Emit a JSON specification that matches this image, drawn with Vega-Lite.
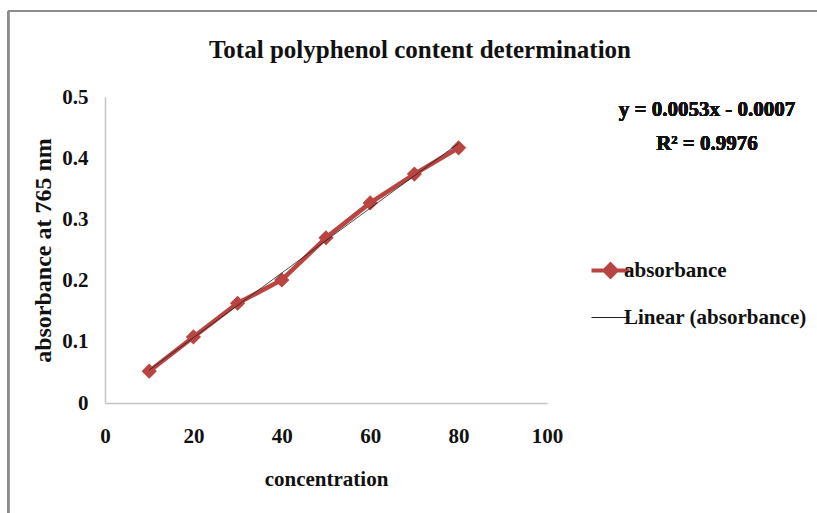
{
  "$schema": "https://vega.github.io/schema/vega-lite/v6.json",
  "width": 442,
  "height": 306,
  "autosize": {"type": "none"},
  "padding": {"left": 105, "top": 97, "right": 270, "bottom": 110},
  "background": "white",
  "config": {
    "view": {"stroke": null},
    "font": "Liberation Serif",
    "axis": {
      "labelFont": "Liberation Serif",
      "labelFontWeight": "bold",
      "labelFontSize": 21,
      "labelColor": "#111111",
      "labelFlush": false,
      "titleFont": "Liberation Serif",
      "titleFontWeight": "bold",
      "titleColor": "#111111",
      "grid": false,
      "ticks": false,
      "domainColor": "#c4c4c4",
      "domainWidth": 1.5
    },
    "legend": {
      "labelFont": "Liberation Serif",
      "labelFontWeight": "bold",
      "labelFontSize": 21,
      "labelColor": "#111111",
      "labelLimit": 0
    }
  },
  "title": {
    "text": "Total polyphenol content determination",
    "font": "Liberation Serif",
    "fontWeight": "bold",
    "fontSize": 25,
    "color": "#111111",
    "anchor": "middle",
    "frame": "group",
    "dx": 94,
    "offset": -53
  },
  "data": {
    "values": [
      {"concentration": 10, "absorbance": 0.052},
      {"concentration": 20, "absorbance": 0.108},
      {"concentration": 30, "absorbance": 0.163},
      {"concentration": 40, "absorbance": 0.201},
      {"concentration": 50, "absorbance": 0.270},
      {"concentration": 60, "absorbance": 0.327},
      {"concentration": 70, "absorbance": 0.374},
      {"concentration": 80, "absorbance": 0.417}
    ]
  },
  "layer": [
    {
      "mark": {"type": "rule", "color": "#8c8c8c", "strokeWidth": 2, "clip": false},
      "encoding": {
        "x": {"datum": -21.9, "type": "quantitative"},
        "x2": {"datum": 162},
        "y": {"datum": 0.6405, "type": "quantitative"}
      }
    },
    {
      "mark": {"type": "rule", "color": "#8c8c8c", "strokeWidth": 2, "clip": false},
      "encoding": {
        "x": {"datum": -21.9, "type": "quantitative"},
        "y": {"datum": 0.6405, "type": "quantitative"},
        "y2": {"datum": -0.2}
      }
    },
    {
      "mark": {"type": "line", "strokeWidth": 4.5, "point": {"shape": "diamond", "size": 230, "filled": true, "opacity": 1}},
      "encoding": {
        "x": {
          "field": "concentration",
          "type": "quantitative",
          "scale": {"domain": [0, 100]},
          "axis": {
            "values": [0, 20, 40, 60, 80, 100],
            "labelPadding": 22,
            "title": "concentration",
            "titleFontSize": 21,
            "titlePadding": 22
          }
        },
        "y": {
          "field": "absorbance",
          "type": "quantitative",
          "scale": {"domain": [0, 0.5]},
          "axis": {
            "values": [0, 0.1, 0.2, 0.3, 0.4, 0.5],
            "format": "~g",
            "labelPadding": 17,
            "title": "absorbance at 765 nm",
            "titleFontSize": 24,
            "titlePadding": 6
          }
        },
        "color": {
          "datum": "absorbance",
          "type": "nominal",
          "scale": {
            "domain": ["absorbance", "Linear (absorbance)"],
            "range": ["#b94441", "#222222"]
          },
          "legend": {
            "title": null,
            "orient": "none",
            "legendX": 495,
            "legendY": 163,
            "symbolType": "M-1,0H1",
            "symbolSize": 1444,
            "symbolStrokeWidth": 1,
            "labelOffset": 3,
            "rowPadding": 21,
            "encode": {
              "symbols": {
                "update": {
                  "shape": {"signal": "datum.value === 'absorbance' ? 'M-1,0H1M0,-0.32L0.32,0L0,0.32L-0.32,0Z' : 'M-1,0H1'"},
                  "strokeWidth": {"signal": "datum.value === 'absorbance' ? 4 : 1"},
                  "fill": {"signal": "datum.value === 'absorbance' ? '#b94441' : 'transparent'"},
                  "fillOpacity": {"value": 1}
                }
              }
            }
          }
        }
      }
    },
    {
      "transform": [{"regression": "absorbance", "on": "concentration"}],
      "mark": {"type": "line", "strokeWidth": 1, "opacity": 0.8},
      "encoding": {
        "x": {"field": "concentration", "type": "quantitative"},
        "y": {"field": "absorbance", "type": "quantitative"},
        "color": {"datum": "Linear (absorbance)", "type": "nominal"}
      }
    },
    {
      "mark": {"type": "text", "font": "Liberation Serif", "fontWeight": "bold", "fontSize": 21, "color": "#111111", "align": "center", "baseline": "alphabetic", "clip": false},
      "encoding": {
        "x": {"datum": 136.2, "type": "quantitative"},
        "y": {"datum": 0.469, "type": "quantitative"},
        "text": {"value": "y = 0.0053x - 0.0007"}
      }
    },
    {
      "mark": {"type": "text", "font": "Liberation Serif", "fontWeight": "bold", "fontSize": 21, "color": "#111111", "align": "center", "baseline": "alphabetic", "clip": false},
      "encoding": {
        "x": {"datum": 136.2, "type": "quantitative"},
        "y": {"datum": 0.413, "type": "quantitative"},
        "text": {"value": "R² = 0.9976"}
      }
    }
  ]
}
